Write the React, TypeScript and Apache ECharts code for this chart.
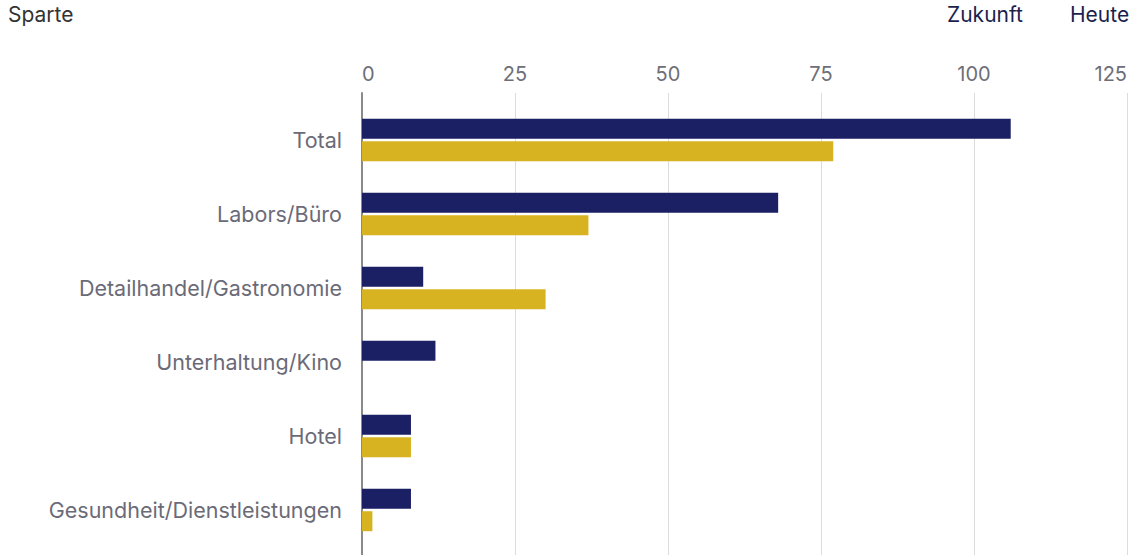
import React, { useEffect, useRef } from "react";
import * as echarts from "echarts";

const categories = [
  "Total",
  "Labors/Büro",
  "Detailhandel/Gastronomie",
  "Unterhaltung/Kino",
  "Hotel",
  "Gesundheit/Dienstleistungen",
];
const zukunft = [106, 68, 10, 12, 8, 8];
const heute = [77, 37, 30, 0, 8, 1.7];
const seriesNames = ["Zukunft", "Heute"];
const headerLabel = "Sparte";

const NAVY = "#1b1f64";
const GOLD = "#d8b321";
const FONT = "Inter, 'Liberation Sans', sans-serif";

export default function App() {
  const ref = useRef<HTMLDivElement>(null);
  useEffect(() => {
    if (!ref.current) return;
    const chart = echarts.init(ref.current, null, { renderer: "svg" });
    chart.setOption({
      animation: false,
      backgroundColor: "#ffffff",
      textStyle: { fontFamily: FONT },
      grid: [
        { left: 362, right: 5, top: 93, bottom: 0 },
        { left: 362, right: 5, top: 103, height: 444 },
      ],
      xAxis: [
        {
          gridIndex: 0,
          type: "value",
          position: "top",
          min: 0,
          max: 125,
          interval: 25,
          axisLine: { show: false },
          axisTick: { show: false },
          splitLine: { show: true, lineStyle: { color: "#dcdcdc", width: 1 } },
          axisLabel: {
            color: "#6e6e78",
            fontSize: 20,
            fontFamily: FONT,
            margin: 9,
            alignMinLabel: "left",
            alignMaxLabel: "right",
          },
        },
        {
          gridIndex: 1,
          type: "value",
          min: 0,
          max: 125,
          show: false,
        },
      ],
      yAxis: [
        {
          gridIndex: 0,
          type: "category",
          data: [""],
          axisLine: { show: true, lineStyle: { color: "#8a8a8a", width: 2 } },
          axisTick: { show: false },
          axisLabel: { show: false },
        },
        {
          gridIndex: 1,
          type: "category",
          data: categories,
          inverse: true,
          axisLine: { show: false },
          axisTick: { show: false },
          axisLabel: {
            color: "#6b6b78",
            fontSize: 21.5,
            fontFamily: FONT,
            margin: 20,
          },
        },
      ],
      series: [
        {
          name: seriesNames[0],
          type: "bar",
          xAxisIndex: 1,
          yAxisIndex: 1,
          data: zukunft,
          barWidth: 20,
          barGap: "12%",
          itemStyle: { color: NAVY },
        },
        {
          name: seriesNames[1],
          type: "bar",
          xAxisIndex: 1,
          yAxisIndex: 1,
          data: heute,
          barWidth: 20,
          barGap: "12%",
          itemStyle: { color: GOLD },
        },
      ],
      graphic: [
        {
          type: "text",
          left: 8,
          top: 4,
          style: { text: headerLabel, fontSize: 21, fill: "#333333", fontFamily: FONT },
        },
        {
          type: "text",
          left: 947,
          top: 4,
          style: { text: seriesNames[0], fontSize: 21, fill: "#1b1f4e", fontFamily: FONT },
        },
        {
          type: "text",
          left: 1070,
          top: 4,
          style: { text: seriesNames[1], fontSize: 21, fill: "#1b1f4e", fontFamily: FONT },
        },
      ],
    });
    return () => chart.dispose();
  }, []);
  return (
    <div
      ref={ref}
      style={{ position: "absolute", left: 0, top: 0, width: 1132, height: 555 }}
    />
  );
}
